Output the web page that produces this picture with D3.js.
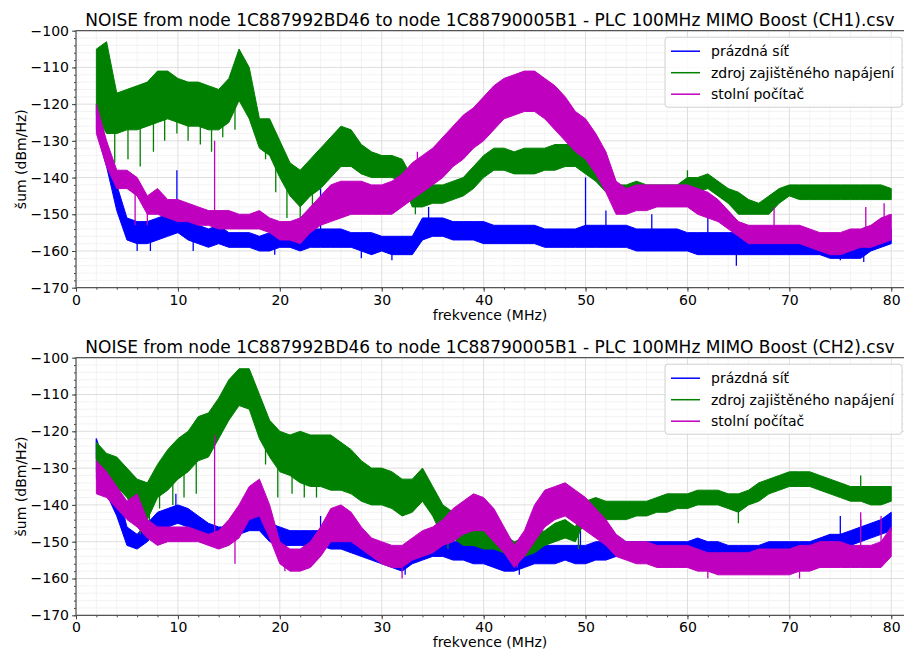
<!DOCTYPE html>
<html lang="cs">
<head>
<meta charset="utf-8">
<script src="https://d3js.org/d3.v7.min.js"></script>
<style>
  body { margin: 0; background: #fff; }
  text { font-family: "DejaVu Sans", sans-serif; fill: #000; }
</style>
</head>
<body>
<script>
// frequency grid (MHz), one sample per MHz, band read as upper / lower edge (dBm/Hz)
var freq = [2,3,4,5,6,7,8,9,10,11,12,13,14,15,16,17,18,19,20,21,22,23,24,25,26,27,28,29,30,31,32,33,34,35,36,37,38,39,40,41,
            42,43,44,45,46,47,48,49,50,51,52,53,54,55,56,57,58,59,60,61,62,63,64,65,66,67,68,69,70,71,72,73,74,75,76,77,78,79,80];

var seriesNames = ["prázdná síť", "zdroj zajištěného napájení", "stolní počítač"];
var seriesColors = ["#0000ff", "#008000", "#bf00bf"];
var titles = ["NOISE from node 1C887992BD46 to node 1C88790005B1 - PLC 100MHz MIMO Boost (CH1).csv",
              "NOISE from node 1C887992BD46 to node 1C88790005B1 - PLC 100MHz MIMO Boost (CH2).csv"];
var xTicks = [0,10,20,30,40,50,60,70,80];
var yTicks = [-170,-160,-150,-140,-130,-120,-110,-100];

// ---- CH1 ----
var ch1BlueHi = [-120,-131,-142,-151,-152,-152,-151,-150,-148,-150,-153,-154,-153,-155,-155,-155,-156,-155,-155,-155,
                 -155,-154,-154,-154,-154,-155,-155,-155,-156,-156,-156,-156,-151,-151,-151,-152,-152,-152,-152,-153,
                 -153,-153,-153,-153,-154,-154,-154,-154,-153,-153,-153,-153,-153,-154,-154,-154,-154,-154,-155,-155,
                 -155,-155,-155,-155,-155,-155,-155,-155,-155,-156,-156,-156,-156,-156,-156,-156,-155,-155,-154];
var ch1BlueLo = [-127,-137,-149,-157,-158,-158,-157,-156,-155,-157,-158,-159,-158,-159,-159,-159,-160,-160,-159,-159,
                 -160,-159,-159,-159,-159,-159,-160,-161,-160,-161,-161,-161,-157,-156,-156,-157,-157,-157,-158,-158,
                 -158,-158,-158,-158,-159,-159,-159,-159,-159,-159,-159,-159,-159,-160,-160,-160,-160,-160,-160,-161,
                 -161,-161,-161,-161,-161,-161,-161,-161,-161,-161,-161,-161,-162,-162,-162,-162,-160,-159,-158];
var ch1BlueSpikes = [[9.9,-138],[24.0,-143],[34.6,-148],[50.0,-140],[52.0,-149],[56.5,-150],[62.0,-150],
                     [6.0,-160],[7.3,-160],[11.5,-160],[19.5,-161],[28.0,-162],[31.0,-162.5],[64.8,-164],[75.0,-162.5],[77.3,-163]];

var ch1GreenHi = [-105,-103,-117,-116,-115,-114,-111,-111,-113,-114,-114,-115,-116,-113,-105,-110,-124,-124,-130,-136,
                  -138,-135,-132,-129,-126,-127,-131,-133,-134,-134,-135,-140,-141,-142,-142,-141,-140,-137,-134,-132,
                  -132,-133,-132,-132,-132,-131,-131,-131,-131,-134,-140,-142,-142,-141,-142,-142,-142,-142,-140,-140,
                  -139,-141,-143,-144,-146,-147,-145,-143,-142,-142,-142,-142,-142,-142,-142,-142,-142,-142,-143];
var ch1GreenLo = [-123,-128,-128,-127,-127,-126,-125,-124,-125,-126,-126,-127,-127,-125,-119,-124,-132,-134,-140,-145,
                  -148,-145,-143,-140,-137,-137,-139,-140,-140,-140,-141,-148,-148,-147,-147,-146,-145,-143,-140,-138,
                  -138,-139,-139,-139,-138,-138,-137,-137,-139,-141,-144,-146,-145,-145,-145,-145,-145,-146,-146,-144,
                  -143,-145,-147,-150,-150,-150,-150,-147,-145,-146,-146,-146,-146,-146,-146,-146,-146,-146,-146];
var ch1GreenSpikes = [[2.7,-129],[3.8,-136],[5.1,-135],[6.3,-137],[7.6,-133],[8.7,-130],[9.9,-128],[11.0,-130],
                      [12.2,-131],[13.3,-133],[14.4,-129],[15.6,-127],[18.6,-135],[19.6,-144],[20.7,-151],[22.0,-151],
                      [23.2,-148],[33.3,-150],[53.0,-148],[60.0,-138]];

var ch1MagHi = [-120,-130,-138,-138,-140,-145,-143,-146,-146,-147,-148,-149,-149,-149,-150,-150,-149,-151,-152,-152,
                -151,-148,-145,-142,-141,-141,-141,-142,-142,-141,-139,-136,-134,-132,-129,-126,-123,-121,-118,-115,
                -113,-112,-111,-111,-113,-115,-118,-122,-124,-128,-133,-141,-143,-142,-142,-142,-142,-142,-142,-143,
                -144,-146,-149,-152,-153,-153,-153,-153,-153,-153,-154,-155,-155,-155,-154,-154,-153,-151,-150];
var ch1MagLo = [-128,-137,-143,-143,-145,-150,-150,-151,-152,-152,-153,-153,-154,-154,-154,-154,-154,-155,-157,-157,
                -158,-155,-153,-152,-151,-150,-150,-150,-150,-150,-148,-146,-144,-142,-140,-137,-135,-132,-130,-127,
                -124,-123,-122,-122,-124,-127,-130,-133,-135,-139,-144,-150,-150,-149,-149,-148,-148,-148,-148,-150,
                -151,-152,-154,-156,-158,-158,-158,-158,-158,-158,-159,-160,-161,-161,-160,-159,-159,-158,-157];
var ch1MagSpikes = [[13.6,-130],[5.8,-153],[7.0,-153],[33.5,-133],[68.5,-148],[77.5,-148],[79.3,-147],[79.8,-150]];

// ---- CH2 ----
var ch2BlueHi = [-122,-130,-135,-146,-148,-145,-142,-141,-140,-141,-143,-145,-146,-146,-145,-143,-143,-145,-146,-147,
                 -147,-147,-147,-147,-148,-149,-149,-150,-151,-152,-152,-151,-150,-150,-150,-150,-150,-151,-151,-152,
                 -152,-153,-152,-151,-151,-151,-151,-151,-151,-150,-150,-150,-150,-150,-150,-150,-150,-150,-150,-149,
                 -150,-150,-151,-151,-151,-151,-150,-150,-150,-150,-150,-149,-148,-148,-147,-146,-145,-144,-142];
var ch2BlueLo = [-133,-137,-143,-151,-152,-150,-147,-146,-145,-146,-147,-149,-150,-149,-148,-147,-147,-150,-151,-151,
                 -151,-151,-151,-152,-152,-153,-154,-155,-156,-157,-158,-156,-155,-154,-154,-155,-155,-156,-156,-157,
                 -158,-158,-157,-156,-156,-156,-155,-156,-156,-155,-155,-154,-154,-154,-154,-154,-154,-154,-154,-154,
                 -154,-155,-155,-156,-156,-155,-155,-155,-155,-155,-155,-154,-153,-152,-151,-150,-149,-148,-147];
var ch2BlueSpikes = [[2.0,-122],[9.8,-137],[24.0,-143],[49.5,-144],[75.0,-143],[77.0,-144],[32.3,-159],[43.5,-159]];

var ch2GreenHi = [-123,-126,-127,-130,-133,-134,-129,-125,-122,-120,-116,-115,-111,-106,-103,-103,-110,-117,-120,-121,
                  -120,-121,-121,-121,-123,-125,-128,-130,-130,-131,-133,-133,-130,-135,-140,-142,-145,-146,-147,-147,
                  -148,-150,-149,-148,-147,-145,-144,-146,-139,-138,-139,-139,-139,-139,-139,-138,-137,-137,-137,-136,
                  -136,-136,-137,-137,-136,-134,-133,-132,-131,-131,-131,-132,-133,-134,-135,-135,-135,-135,-135];
var ch2GreenLo = [-131,-133,-135,-138,-143,-144,-138,-136,-133,-131,-128,-127,-122,-117,-113,-114,-122,-127,-131,-132,
                  -134,-135,-135,-136,-136,-137,-139,-140,-140,-141,-143,-142,-139,-143,-149,-149,-151,-151,-152,-152,
                  -153,-155,-154,-153,-151,-150,-149,-150,-144,-143,-144,-144,-144,-143,-143,-142,-142,-141,-141,-140,
                  -140,-140,-141,-142,-140,-139,-137,-136,-135,-135,-135,-136,-137,-138,-139,-139,-140,-140,-139];
var ch2GreenSpikes = [[6.3,-148],[7.2,-147],[8.2,-141],[9.5,-140],[10.6,-138],[11.8,-137],[18.6,-129],[19.8,-138],
                      [21.2,-137],[22.4,-138],[23.6,-138],[36.5,-152],[43.4,-156],[49.3,-152],[65.0,-145],[77.0,-132]];

var ch2MagHi = [-128,-131,-135,-139,-137,-144,-146,-146,-146,-146,-147,-148,-147,-144,-140,-135,-133,-140,-150,-152,
                -152,-150,-146,-141,-140,-142,-146,-149,-150,-151,-151,-149,-147,-146,-144,-141,-139,-137,-138,-141,
                -146,-151,-147,-140,-136,-135,-134,-136,-138,-141,-144,-148,-150,-150,-150,-151,-151,-151,-151,-152,
                -153,-153,-153,-153,-153,-152,-152,-152,-152,-151,-151,-150,-150,-150,-151,-151,-151,-150,-146];
var ch2MagLo = [-137,-138,-141,-144,-146,-149,-151,-150,-150,-150,-150,-151,-152,-151,-149,-144,-143,-149,-156,-158,
                -158,-157,-154,-150,-150,-150,-152,-154,-156,-157,-157,-155,-154,-153,-151,-150,-148,-147,-147,-150,
                -153,-157,-154,-150,-146,-144,-143,-145,-147,-149,-151,-154,-155,-156,-156,-157,-157,-157,-157,-158,
                -158,-159,-159,-159,-159,-159,-159,-159,-159,-158,-158,-157,-157,-157,-157,-157,-157,-157,-154];
var ch2MagSpikes = [[13.6,-121],[15.6,-156],[20.5,-158],[32.0,-160],[43.3,-157],[62.0,-160],[71.0,-160],[77.0,-142],[79.0,-143]];

var panels = [
  { title: titles[0], top: 30.7, bottom: 287.7,
    series: [[ch1BlueHi, ch1BlueLo, ch1BlueSpikes], [ch1GreenHi, ch1GreenLo, ch1GreenSpikes], [ch1MagHi, ch1MagLo, ch1MagSpikes]] },
  { title: titles[1], top: 357.7, bottom: 615.3,
    series: [[ch2BlueHi, ch2BlueLo, ch2BlueSpikes], [ch2GreenHi, ch2GreenLo, ch2GreenSpikes], [ch2MagHi, ch2MagLo, ch2MagSpikes]] }
];

var width = 904, height = 650;
var left = 76, right = 904;

var svg = d3.select("body").append("svg")
  .attr("width", width).attr("height", height);

var x = d3.scaleLinear().domain([0, 81.25]).range([left, right]);

panels.forEach(function(p, pi) {
  var y = d3.scaleLinear().domain([-170, -100]).range([p.bottom, p.top]);
  var g = svg.append("g");

  g.append("clipPath").attr("id", "clip" + pi)
    .append("rect").attr("x", left).attr("y", p.top).attr("width", right - left).attr("height", p.bottom - p.top);

  // minor grid
  var xMinor = d3.range(0, 82, 2).filter(function(v) { return v % 10 !== 0; });
  var yMinor = d3.range(-170, -99, 2).filter(function(v) { return v % 10 !== 0; });
  g.selectAll(".gxm").data(xMinor).enter().append("line")
    .attr("x1", x).attr("x2", x).attr("y1", p.top).attr("y2", p.bottom)
    .attr("stroke", "#f0f0f0").attr("stroke-width", 0.8);
  g.selectAll(".gym").data(yMinor).enter().append("line")
    .attr("x1", left).attr("x2", right).attr("y1", y).attr("y2", y)
    .attr("stroke", "#f0f0f0").attr("stroke-width", 0.8);
  // major grid
  g.selectAll(".gx").data(xTicks).enter().append("line")
    .attr("x1", x).attr("x2", x).attr("y1", p.top).attr("y2", p.bottom)
    .attr("stroke", "#dedede").attr("stroke-width", 1);
  g.selectAll(".gy").data(yTicks).enter().append("line")
    .attr("x1", left).attr("x2", right).attr("y1", y).attr("y2", y)
    .attr("stroke", "#dedede").attr("stroke-width", 1);

  // series
  var plot = g.append("g").attr("clip-path", "url(#clip" + pi + ")");
  p.series.forEach(function(s, si) {
    var hi = s[0], lo = s[1], spikes = s[2];
    var pts = freq.map(function(f, i) { return { f: f, hi: hi[i], lo: lo[i] }; });
    var area = d3.area().x(function(d) { return x(d.f); })
      .y0(function(d) { return y(d.lo); }).y1(function(d) { return y(d.hi); });
    plot.append("path").datum(pts)
      .attr("d", area)
      .attr("fill", seriesColors[si])
      .attr("stroke", seriesColors[si]).attr("stroke-width", 1).attr("stroke-linejoin", "round");
    plot.selectAll(null).data(spikes).enter().append("line")
      .attr("x1", function(d) { return x(d[0]); }).attr("x2", function(d) { return x(d[0]); })
      .attr("y1", function(d) {
        var i = Math.max(0, Math.min(freq.length - 1, Math.round(d[0]) - freq[0]));
        return y((hi[i] + lo[i]) / 2);
      })
      .attr("y2", function(d) { return y(d[1]); })
      .attr("stroke", seriesColors[si]).attr("stroke-width", 1.3);
  });

  // axes
  var xAxis = d3.axisBottom(x).tickValues(xTicks).tickSize(4).tickPadding(3);
  var xAxisMinor = d3.axisBottom(x).tickValues(d3.range(0, 82, 2)).tickSize(2).tickFormat("");
  var yAxis = d3.axisLeft(y).tickValues(yTicks).tickSize(4).tickPadding(3)
    .tickFormat(function(d) { return "\u2212" + Math.abs(d); });
  var yAxisMinor = d3.axisLeft(y).tickValues(d3.range(-170, -99, 2)).tickSize(2).tickFormat("");

  [ [xAxisMinor, "translate(0," + p.bottom + ")"], [xAxis, "translate(0," + p.bottom + ")"],
    [yAxisMinor, "translate(" + left + ",0)"], [yAxis, "translate(" + left + ",0)"] ].forEach(function(a) {
    var ag = g.append("g").attr("transform", a[1]).call(a[0]);
    ag.select(".domain").remove();
    ag.selectAll("line").attr("stroke", "#444");
    ag.selectAll("text").style("font-family", "DejaVu Sans").style("font-size", "14px").attr("fill", "#000");
  });

  // spines
  g.append("line").attr("x1", left).attr("x2", right).attr("y1", p.bottom).attr("y2", p.bottom)
    .attr("stroke", "#555").attr("stroke-width", 1.2);
  g.append("line").attr("x1", left).attr("x2", right).attr("y1", p.top).attr("y2", p.top)
    .attr("stroke", "#555").attr("stroke-width", 1.2);
  g.append("line").attr("x1", left).attr("x2", left).attr("y1", p.top).attr("y2", p.bottom)
    .attr("stroke", "#555").attr("stroke-width", 1.2);

  // title and labels
  g.append("text").attr("x", (left + right) / 2).attr("y", p.top - 5)
    .attr("text-anchor", "middle").style("font-size", "17px").text(p.title);
  g.append("text").attr("x", (left + right) / 2).attr("y", p.bottom + 32)
    .attr("text-anchor", "middle").style("font-size", "14px").text("frekvence (MHz)");
  g.append("text")
    .attr("transform", "translate(26," + ((p.top + p.bottom) / 2) + ") rotate(-90)")
    .attr("text-anchor", "middle").style("font-size", "14px").text("šum (dBm/Hz)");

  // legend
  var lg = g.append("g").attr("transform", "translate(665," + (p.top + 6.5) + ")");
  lg.append("rect").attr("x", 0).attr("y", 0).attr("width", 237).attr("height", 70)
    .attr("rx", 3).attr("fill", "#fff").attr("fill-opacity", 0.85)
    .attr("stroke", "#d0d0d0").attr("stroke-width", 1);
  seriesNames.forEach(function(name, i) {
    var yy = 14 + i * 21.5;
    lg.append("line").attr("x1", 6).attr("x2", 35).attr("y1", yy).attr("y2", yy)
      .attr("stroke", seriesColors[i]).attr("stroke-width", 1.5);
    lg.append("text").attr("x", 46).attr("y", yy + 5).style("font-size", "14px").text(name);
  });
});
</script>
</body>
</html>
